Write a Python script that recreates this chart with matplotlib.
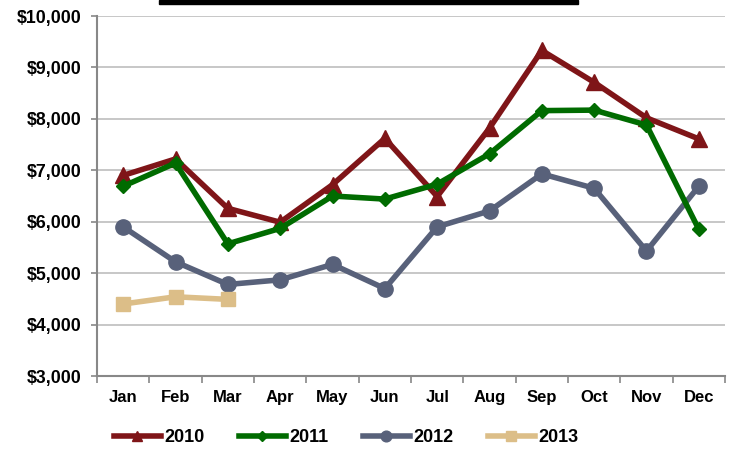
import matplotlib
matplotlib.use("Agg")
import matplotlib.pyplot as plt
from matplotlib.patches import Rectangle
from matplotlib.ticker import FuncFormatter

months = ["Jan", "Feb", "Mar", "Apr", "May", "Jun", "Jul", "Aug", "Sep", "Oct", "Nov", "Dec"]
v2010 = [6900, 7220, 6260, 5990, 6720, 7620, 6490, 7820, 9330, 8710, 8020, 7610]
v2011 = [6690, 7140, 5570, 5870, 6500, 6440, 6730, 7320, 8160, 8170, 7880, 5850]
v2012 = [5900, 5220, 4780, 4870, 5170, 4700, 5900, 6210, 6930, 6650, 5430, 6690]
v2013 = [4400, 4540, 4490]
series_names = ["2010", "2011", "2012", "2013"]

plt.rcParams['font.family'] = ['Liberation Sans', 'DejaVu Sans']

fig = plt.figure(figsize=(7.33, 4.49), dpi=100)
ax = fig.add_axes([97/733, 1 - 376/449, (725-97)/733, (376-16)/449])

x = list(range(len(months)))
lw = 4.0
ax.plot(x, v2010, color="#7F1518", lw=lw, marker="^", ms=11, label=series_names[0], zorder=3)
ax.plot(x, v2011, color="#006B00", lw=lw, marker="D", ms=7.5, label=series_names[1], zorder=4)
ax.plot(x, v2012, color="#58617A", lw=lw, marker="o", ms=11, label=series_names[2], zorder=3)
ax.plot(x[:len(v2013)], v2013, color="#DCBE88", lw=lw, marker="s", ms=10.5, label=series_names[3], zorder=3)

ax.set_xlim(-0.5, 11.5)
ax.set_ylim(3000, 10000)
ax.set_yticks(range(3000, 10001, 1000))
ax.yaxis.set_major_formatter(FuncFormatter(lambda v, p: "${:,.0f}".format(v)))
ax.set_xticks(x)
ax.set_xticklabels(months)
ax.set_xticks([i - 0.5 for i in range(13)], minor=True)
ax.tick_params(axis='x', which='major', length=0, pad=10)
ax.tick_params(axis='x', which='minor', length=5, color="#888888", width=1.2)
ax.tick_params(axis='y', length=4, color="#888888", width=1.2, pad=7)
for lab in ax.get_xticklabels():
    lab.set_fontweight('bold')
    lab.set_fontsize(12)
for lab in ax.get_yticklabels():
    lab.set_fontweight('bold')
    lab.set_fontsize(12.8)

ax.grid(axis='y', color="#BDBDBD", lw=1.2)
ax.set_axisbelow(True)
for s in ['top', 'right']:
    ax.spines[s].set_visible(False)
ax.spines['left'].set_color("#888888")
ax.spines['bottom'].set_color("#888888")
ax.spines['left'].set_linewidth(1.5)
ax.spines['bottom'].set_linewidth(1.5)

leg = fig.legend(loc='center', bbox_to_anchor=(346/733, 1 - 438/449), ncol=4, frameon=False,
                 prop={'weight': 'bold', 'size': 13}, handlelength=2.6, handletextpad=0.2,
                 columnspacing=1.9, markerscale=0.7, borderaxespad=0, borderpad=0)

fig.patches.append(Rectangle((159/733, 1 - 4/449), (578-159)/733, 4/449,
                             transform=fig.transFigure, color="black", zorder=10))

fig.savefig("out.png", dpi=100)
